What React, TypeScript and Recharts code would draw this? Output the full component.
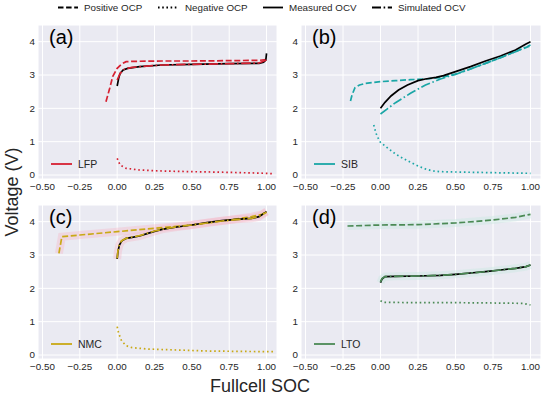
import React from 'react';
import { LineChart, Line, XAxis, YAxis, CartesianGrid } from 'recharts';

type P = { x: number; y: number };
const mk = (arr: number[][]): P[] => arr.map(([x, y]) => ({ x, y }));

const xTicks = [-0.5, -0.25, 0, 0.25, 0.5, 0.75, 1.0];
const yTicks = [0, 1, 2, 3, 4];

// (a) LFP
const lfpPositive = [[-0.075, 2.2], [-0.05, 2.6], [-0.03, 2.95], [0, 3.2], [0.03, 3.33], [0.06, 3.4], [0.1, 3.41], [0.3, 3.42], [0.5, 3.42], [0.75, 3.43], [0.95, 3.44], [1.0, 3.46]];
const lfpNegative = [[0, 0.5], [0.02, 0.3], [0.06, 0.2], [0.15, 0.15], [0.3, 0.12], [0.5, 0.1], [0.75, 0.08], [1.0, 0.05], [1.04, 0.04]];
const lfpMeasured = [[0, 2.67], [0.01, 2.9], [0.02, 3.05], [0.04, 3.15], [0.07, 3.2], [0.15, 3.25], [0.3, 3.3], [0.5, 3.32], [0.75, 3.34], [0.95, 3.35], [0.98, 3.38], [0.995, 3.45], [1.0, 3.65]];
const lfpSimulated = [[0, 2.85], [0.02, 3.05], [0.05, 3.18], [0.1, 3.23], [0.3, 3.3], [0.5, 3.32], [0.75, 3.34], [0.95, 3.36], [1.0, 3.45]];

// (b) SIB
const sibPositive = [[-0.2, 2.22], [-0.19, 2.4], [-0.17, 2.62], [-0.14, 2.7], [-0.1, 2.75], [0, 2.8], [0.1, 2.83], [0.2, 2.86], [0.3, 2.88], [0.4, 2.92], [0.5, 3.03], [0.6, 3.18], [0.7, 3.35], [0.8, 3.52], [0.9, 3.7], [1.0, 3.88]];
const sibNegative = [[-0.045, 1.5], [-0.03, 1.25], [-0.01, 1.05], [0, 0.98], [0.05, 0.8], [0.1, 0.63], [0.15, 0.5], [0.2, 0.38], [0.25, 0.27], [0.3, 0.18], [0.35, 0.12], [0.4, 0.1], [0.5, 0.09], [0.75, 0.07], [1.0, 0.05]];
const sibMeasured = [[0, 2.0], [0.03, 2.18], [0.07, 2.37], [0.12, 2.55], [0.18, 2.7], [0.25, 2.83], [0.3, 2.88], [0.37, 2.93], [0.42, 2.98], [0.5, 3.1], [0.6, 3.25], [0.7, 3.42], [0.8, 3.57], [0.9, 3.75], [0.97, 3.93], [1.0, 4.0]];
const sibSimulated = [[0, 1.83], [0.05, 2.0], [0.1, 2.17], [0.2, 2.45], [0.3, 2.7], [0.4, 2.88], [0.5, 3.02], [0.6, 3.18], [0.7, 3.35], [0.8, 3.52], [0.9, 3.7], [1.0, 3.9]];

// (c) NMC
const nmcPositive = [[-0.39, 3.05], [-0.38, 3.3], [-0.37, 3.55], [-0.25, 3.6], [0, 3.7], [0.25, 3.8], [0.5, 3.9], [0.75, 4.05], [0.9, 4.15], [0.97, 4.22], [1.0, 4.3]];
const nmcNegative = [[0, 0.85], [0.01, 0.65], [0.03, 0.42], [0.06, 0.28], [0.1, 0.22], [0.2, 0.18], [0.4, 0.15], [0.6, 0.12], [0.8, 0.11], [1.0, 0.1], [1.06, 0.1]];
const nmcMeasured = [[0, 2.88], [0.005, 3.1], [0.015, 3.3], [0.03, 3.42], [0.06, 3.5], [0.1, 3.53], [0.15, 3.57], [0.2, 3.64], [0.25, 3.71], [0.3, 3.77], [0.4, 3.84], [0.5, 3.9], [0.6, 3.97], [0.7, 4.03], [0.8, 4.07], [0.9, 4.1], [0.95, 4.15], [1.0, 4.3]];
const nmcSimulated = [[0, 2.9], [0.005, 3.12], [0.015, 3.32], [0.03, 3.43], [0.06, 3.5], [0.1, 3.54], [0.15, 3.58], [0.2, 3.65], [0.25, 3.72], [0.3, 3.77], [0.4, 3.85], [0.5, 3.9], [0.6, 3.96], [0.7, 4.02], [0.8, 4.06], [0.9, 4.1], [0.95, 4.16], [1.0, 4.28]];

// (d) LTO
const ltoPositive = [[-0.22, 3.87], [0, 3.9], [0.25, 3.91], [0.5, 3.96], [0.75, 4.05], [0.9, 4.13], [1.0, 4.22]];
const ltoNegative = [[0, 1.63], [0.02, 1.58], [0.25, 1.57], [0.5, 1.57], [0.75, 1.56], [0.95, 1.55], [1.0, 1.5]];
const ltoMeasured = [[0, 2.17], [0.01, 2.28], [0.03, 2.35], [0.1, 2.36], [0.25, 2.37], [0.4, 2.39], [0.5, 2.42], [0.6, 2.46], [0.7, 2.5], [0.8, 2.55], [0.9, 2.6], [0.97, 2.65], [1.0, 2.7]];
const ltoSimulated = [[0, 2.19], [0.01, 2.29], [0.03, 2.35], [0.1, 2.36], [0.25, 2.37], [0.4, 2.39], [0.5, 2.42], [0.6, 2.46], [0.7, 2.5], [0.8, 2.55], [0.9, 2.6], [0.97, 2.65], [1.0, 2.7]];

const FONT = '"Liberation Sans", Arial, sans-serif';
const TXT = '#262626';

const fmtX = (v: number) => (v < 0 ? '\u2212' : '') + Math.abs(v).toFixed(2);

const DASH = '6 2.6';
const DOT = '1.6 2.8';
const DASHDOT = '9.5 2.6 1.6 2.6';

type PanelProps = {
  left: number; top: number; w: number; h: number;
  color: string; tag: string; name: string;
  pos: number[][]; neg: number[][]; meas: number[][]; sim: number[][];
  glow?: string; glowOpacity?: number;
};

function Panel({ left, top, w, h, color, tag, name, pos, neg, meas, sim, glow, glowOpacity }: PanelProps) {
  const yW = 38;
  const xH = 20;
  const go = glowOpacity ?? 0.4;
  return (
    <div style={{ position: 'absolute', left: left - yW, top, width: yW + w, height: h + xH }}>
      <LineChart width={yW + w} height={h + xH} margin={{ top: 0, right: 0, left: 0, bottom: 0 }}>
        <CartesianGrid fill="#EAEAF2" stroke="#FFFFFF" strokeWidth={1} />
        <XAxis dataKey="x" type="number" domain={[-0.53, 1.07]} ticks={xTicks} allowDataOverflow
          axisLine={false} tickLine={false} tickSize={0} tickMargin={4} height={xH} interval={0}
          tick={{ fontSize: 9.8, fill: TXT, fontFamily: FONT }} tickFormatter={fmtX} />
        <YAxis type="number" domain={[-0.12, 4.5]} ticks={yTicks} allowDataOverflow
          axisLine={false} tickLine={false} tickSize={0} tickMargin={3} width={yW} interval={0}
          tick={{ fontSize: 9.8, fill: TXT, fontFamily: FONT }} />
        {glow ? <Line data={mk(pos)} dataKey="y" stroke={glow} strokeWidth={8} strokeOpacity={go} dot={false} activeDot={false} isAnimationActive={false} /> : null}
        {glow ? <Line data={mk(meas)} dataKey="y" stroke={glow} strokeWidth={8} strokeOpacity={go} dot={false} activeDot={false} isAnimationActive={false} /> : null}
        <Line data={mk(pos)} dataKey="y" stroke={color} strokeWidth={1.7} strokeDasharray={DASH} dot={false} activeDot={false} isAnimationActive={false} />
        <Line data={mk(neg)} dataKey="y" stroke={color} strokeWidth={1.7} strokeDasharray={DOT} dot={false} activeDot={false} isAnimationActive={false} />
        <Line data={mk(meas)} dataKey="y" stroke="#000000" strokeWidth={1.7} dot={false} activeDot={false} isAnimationActive={false} />
        <Line data={mk(sim)} dataKey="y" stroke={color} strokeWidth={1.7} strokeDasharray={DASHDOT} dot={false} activeDot={false} isAnimationActive={false} />
      </LineChart>
      <div style={{ position: 'absolute', left: yW + 11, top: 1, fontFamily: FONT, fontSize: 20, color: '#000', lineHeight: '22px' }}>{tag}</div>
      <svg style={{ position: 'absolute', left: yW + 12, top: h - 22 }} width={60} height={14}>
        <line x1={1} y1={7} x2={22} y2={7} stroke={color} strokeWidth={1.8} />
        <text x={28} y={11} fontFamily={FONT} fontSize={10.5} fill={TXT}>{name}</text>
      </svg>
    </div>
  );
}

function TopLegend() {
  const items = [
    { x: 58, tx: 84, dash: '5.5 2.6', label: 'Positive OCP' },
    { x: 158, tx: 185, dash: '1.6 2.6', label: 'Negative OCP' },
    { x: 263, tx: 289, dash: undefined, label: 'Measured OCV' },
    { x: 372, tx: 398, dash: '9 2.6 1.6 2.6', label: 'Simulated OCV' },
  ];
  return (
    <svg style={{ position: 'absolute', left: 0, top: 0 }} width={550} height={16}>
      {items.map((it) => (
        <g key={it.label}>
          <line x1={it.x} y1={7.5} x2={it.x + 20} y2={7.5} stroke="#000" strokeWidth={1.8} strokeDasharray={it.dash} />
          <text x={it.tx} y={11} fontFamily={FONT} fontSize={9.8} fill={TXT}>{it.label}</text>
        </g>
      ))}
    </svg>
  );
}

export default function App() {
  return (
    <div style={{ position: 'absolute', left: 0, top: 0, width: 550, height: 398, background: '#fff', overflow: 'hidden' }}>
      <TopLegend />
      <Panel left={38} top={25} w={239} h={154} color="#d62031" tag="(a)" name="LFP"
        pos={lfpPositive} neg={lfpNegative} meas={lfpMeasured} sim={lfpSimulated} />
      <Panel left={301} top={25} w={240} h={154} color="#1aa6a6" tag="(b)" name="SIB"
        pos={sibPositive} neg={sibNegative} meas={sibMeasured} sim={sibSimulated} />
      <Panel left={38} top={205} w={239} h={154} color="#c9a915" tag="(c)" name="NMC"
        pos={nmcPositive} neg={nmcNegative} meas={nmcMeasured} sim={nmcSimulated} glow="#f5b3c2" glowOpacity={0.35} />
      <Panel left={301} top={205} w={240} h={154} color="#4b8a55" tag="(d)" name="LTO"
        pos={ltoPositive} neg={ltoNegative} meas={ltoMeasured} sim={ltoSimulated} glow="#cde9e2" glowOpacity={0.45} />
      <div style={{ position: 'absolute', left: 12, top: 192, transform: 'translate(-50%, -50%) rotate(-90deg)', fontFamily: FONT, fontSize: 18, color: TXT, whiteSpace: 'nowrap' }}>Voltage (V)</div>
      <div style={{ position: 'absolute', left: 260, top: 386, transform: 'translate(-50%, -50%)', fontFamily: FONT, fontSize: 18, color: TXT, whiteSpace: 'nowrap' }}>Fullcell SOC</div>
    </div>
  );
}
